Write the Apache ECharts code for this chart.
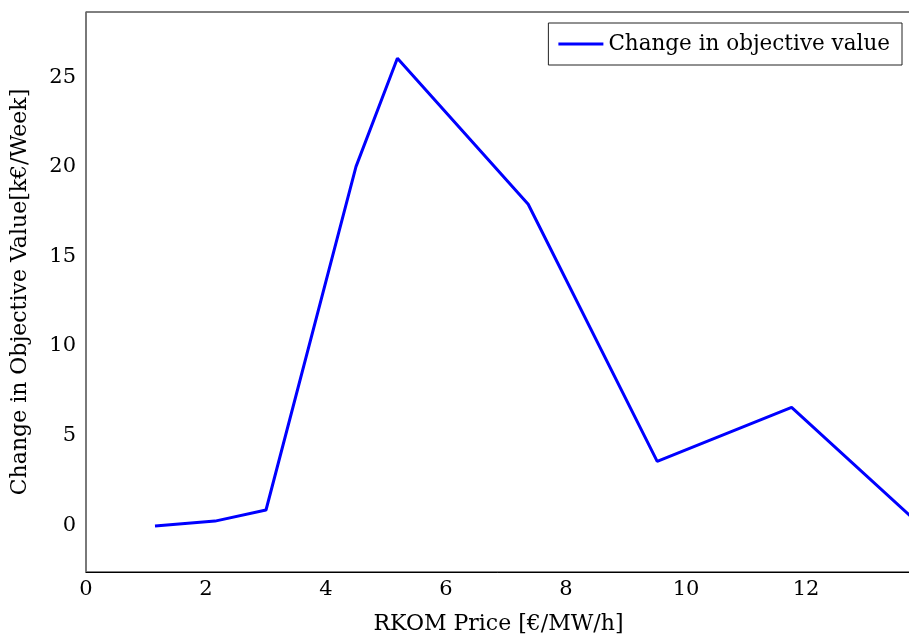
<!DOCTYPE html>
<html>
<head>
<meta charset="utf-8">
<script src="https://cdn.jsdelivr.net/npm/echarts@6/dist/echarts.min.js"></script>
<style>
  html, body { margin: 0; padding: 0; background: #fff; }
  #chart { width: 909px; height: 634px; }
</style>
</head>
<body>
<div id="chart"></div>
<script>
// RKOM price (€/MW/h) vs. change in objective value (k€/week)
const rkomPrice = [1.15, 2.15, 3.0, 4.5, 5.19, 7.37, 9.52, 11.76, 13.75];
const objectiveChange = [-0.05, 0.22, 0.84, 20.0, 26.05, 17.9, 3.55, 6.57, 0.47];
const xTicks = [0, 2, 4, 6, 8, 10, 12];
const yTicks = [0, 5, 10, 15, 20, 25];
const seriesName = 'Change in objective value';

const FONT = 'DejaVu Serif';
const chart = echarts.init(document.getElementById('chart'), null, { renderer: 'canvas' });

chart.setOption({
  animation: false,
  backgroundColor: '#ffffff',
  textStyle: { fontFamily: FONT },
  grid: {
    left: 86, right: -2, top: 12, bottom: 62,
    containLabel: false, outerBoundsMode: 'none',
    show: true, borderColor: '#000', borderWidth: 1, backgroundColor: 'transparent'
  },
  legend: {
    data: [seriesName],
    right: 7, top: 23,
    orient: 'horizontal',
    borderColor: '#222', borderWidth: 1,
    padding: [10, 12, 10, 10],
    itemWidth: 45, itemHeight: 3, itemGap: 8,
    icon: 'rect',
    textStyle: { fontFamily: FONT, fontSize: 21.5, color: '#000' }
  },
  xAxis: {
    type: 'value',
    min: 0, max: 13.75,
    name: 'RKOM Price [€/MW/h]',
    nameLocation: 'middle', nameGap: 41,
    nameTextStyle: { fontFamily: FONT, fontSize: 22, color: '#000' },
    axisLine: { show: true, onZero: false, lineStyle: { color: '#000', width: 1 } },
    axisTick: { show: false },
    splitLine: { show: false },
    axisLabel: {
      customValues: xTicks,
      fontFamily: FONT, fontSize: 21, color: '#000', margin: 7
    }
  },
  yAxis: {
    type: 'value',
    min: -2.62, max: 28.63,
    name: 'Change in Objective Value[k€/Week]',
    nameLocation: 'middle', nameGap: 55,
    nameTextStyle: { fontFamily: FONT, fontSize: 22, color: '#000' },
    axisLine: { show: true, onZero: false, lineStyle: { color: '#777', width: 1.5 } },
    axisTick: { show: false },
    splitLine: { show: false },
    axisLabel: {
      customValues: yTicks,
      fontFamily: FONT, fontSize: 21, color: '#000', margin: 10
    }
  },
  series: [{
    name: seriesName,
    type: 'line',
    data: rkomPrice.map((x, i) => [x, objectiveChange[i]]),
    showSymbol: false,
    symbol: 'none',
    lineStyle: { color: '#0000ff', width: 3 },
    itemStyle: { color: '#0000ff' },
    clip: true
  }]
});
</script>
</body>
</html>
